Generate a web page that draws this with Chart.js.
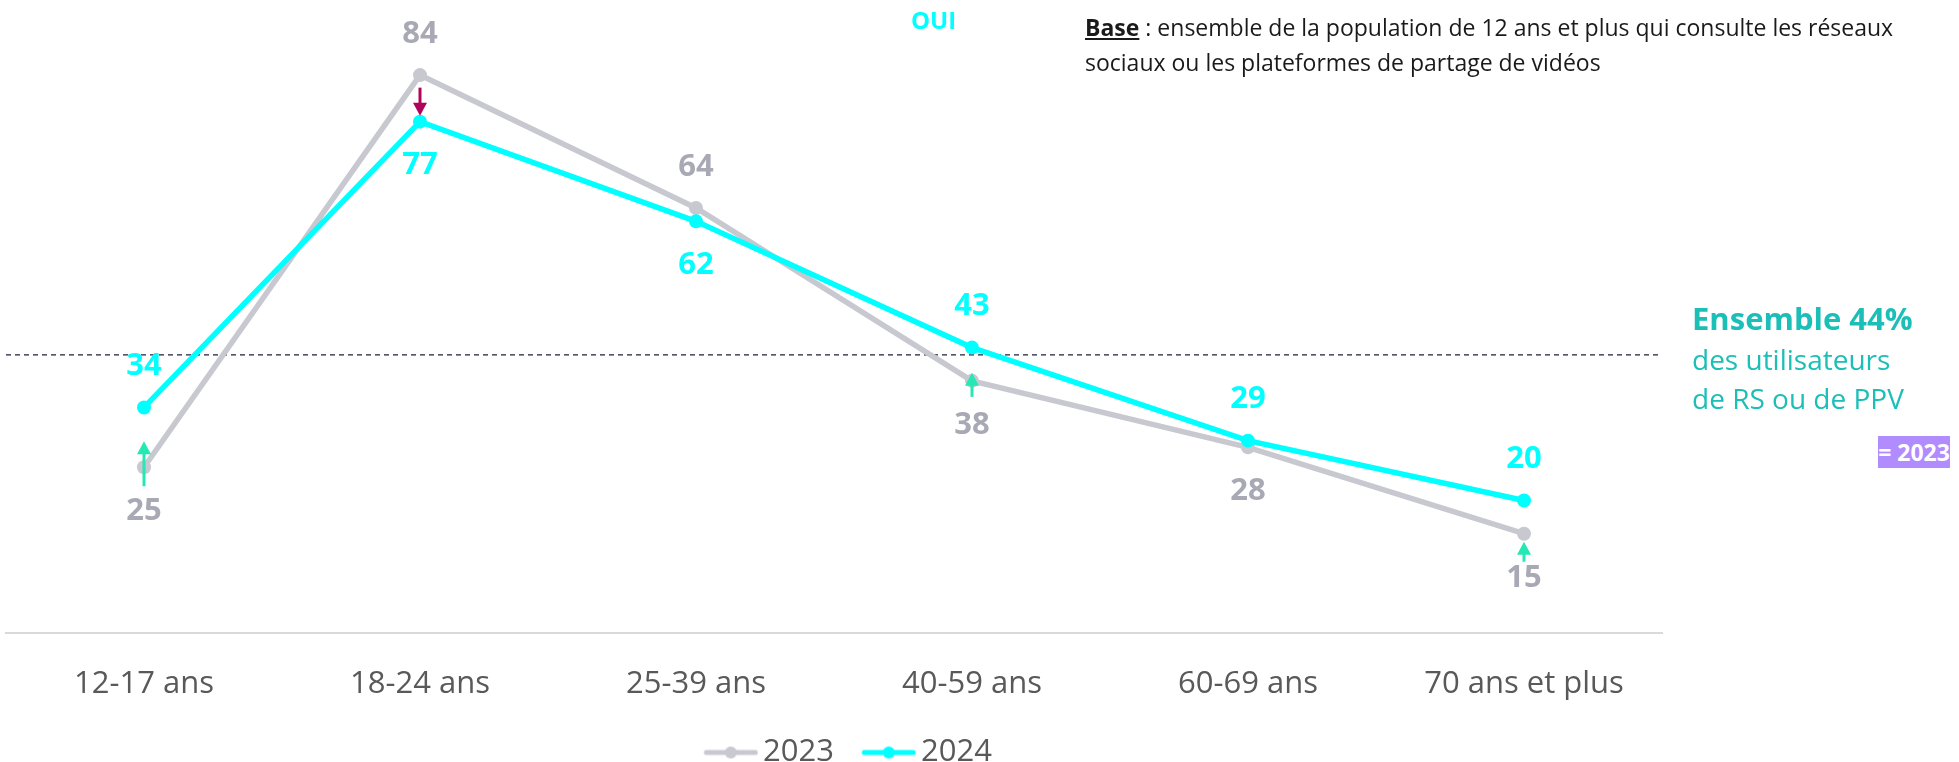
<!DOCTYPE html>
<html lang="fr">
<head>
<meta charset="utf-8">
<title>Réseaux sociaux par âge</title>
<script src="https://cdn.jsdelivr.net/npm/chart.js@4.4.1/dist/chart.umd.min.js"></script>
<style>
    html, body { margin: 0; padding: 0; background: #fff; overflow: hidden; }
    #wrap { position: relative; width: 1959px; height: 762px; }
    #chart { position: absolute; left: 0; top: 0; }
    .note { position: absolute; font-family: "Open Sans", sans-serif; white-space: nowrap; }
    #oui { left: 911px; top: 8px; font-size: 24px; line-height: 24px; font-weight: bold; color: #00FFFF; }
    #base { left: 1085px; top: 10px; font-size: 23px; line-height: 35px; color: #1a1a1a; }
    #base b { text-decoration: underline; }
    .ens { left: 1692px; color: #1BBFB7; line-height: 40px; }
    #ens1 { top: 298px; font-size: 31px; font-weight: bold; }
    #ens2 { top: 339px; font-size: 28px; }
    #ens3 { top: 378px; font-size: 28px; }
    #badge { left: 1878px; top: 436px; width: 72px; height: 32px; line-height: 32px; text-align: center;
             background: #B18CFF; color: #fff; font-size: 23px; font-weight: bold; }
</style>
</head>
<body>
<div id="wrap">
    <canvas id="chart" width="1959" height="762"></canvas>
    <div class="note" id="oui">OUI</div>
    <div class="note" id="base"><b>Base</b> : ensemble de la population de 12 ans et plus qui consulte les réseaux<br>sociaux ou les plateformes de partage de vidéos</div>
    <div class="note ens" id="ens1">Ensemble 44%</div>
    <div class="note ens" id="ens2">des utilisateurs</div>
    <div class="note ens" id="ens3">de RS ou de PPV</div>
    <div class="note" id="badge">= 2023</div>
</div>
<script>
(function() {
    "use strict";

    // data
    var categories = ['12-17 ans', '18-24 ans', '25-39 ans', '40-59 ans', '60-69 ans', '70 ans et plus'];
    var seriesNames = ['2023', '2024'];
    var values2023 = [25, 84, 64, 38, 28, 15];
    var values2024 = [34, 77, 62, 43, 29, 20];
    var ensembleLine = 41.9;   // where the dashed "ensemble" line sits on the y scale
    var evolution = ['up', 'down', null, 'up', null, 'up'];

    // label placement (kept apart from the values)
    var side2023 = ['below', 'above', 'above', 'below', 'below', 'below'];
    var side2024 = ['above', 'below', 'below', 'above', 'above', 'above'];
    var arrowSpan = [[-26, 19], [-6, -34], null, [-8, 16], null, [8, 28]]; // [tip, tail] from the point

    var GREY = '#C8C8D0', GREY_TXT = '#A9A9B5', CYAN = '#00FFFF';
    var UP = '#25E8B5', DOWN = '#B0045C';

    Chart.defaults.font.family = '"Open Sans", sans-serif';

    // legend swatch: line + dot, drawn in the right part of a wider transparent image
    function legendMarker(color) {
        var c = document.createElement('canvas');
        c.width = 93;
        c.height = 14;
        var g = c.getContext('2d');
        g.strokeStyle = color;
        g.lineWidth = 5;
        g.lineCap = 'round';
        g.beginPath();
        g.moveTo(41, 7);
        g.lineTo(90, 7);
        g.stroke();
        g.fillStyle = color;
        g.beginPath();
        g.arc(65.5, 7, 6, 0, Math.PI * 2);
        g.fill();
        return c;
    }
    var markers = [legendMarker(GREY), legendMarker(CYAN)];

    function drawArrow(ctx, x, yTip, yTail, color) {
        var dir = yTip < yTail ? -1 : 1;
        var head = 13;
        ctx.save();
        ctx.strokeStyle = color;
        ctx.fillStyle = color;
        ctx.lineWidth = 3;
        ctx.beginPath();
        ctx.moveTo(x, yTail);
        ctx.lineTo(x, yTip - dir * head * 0.7);
        ctx.stroke();
        ctx.beginPath();
        ctx.moveTo(x, yTip);
        ctx.lineTo(x - 7, yTip - dir * head);
        ctx.lineTo(x + 7, yTip - dir * head);
        ctx.closePath();
        ctx.fill();
        ctx.restore();
    }

    var annotations = {
        id: 'annotations',
        beforeDatasetsDraw: function(chart) {
            var ctx = chart.ctx, area = chart.chartArea;
            var y = chart.scales.y.getPixelForValue(ensembleLine);
            ctx.save();
            ctx.strokeStyle = '#1F1F3F';
            ctx.lineWidth = 1.3;
            ctx.setLineDash([5, 4]);
            ctx.beginPath();
            ctx.moveTo(area.left, y);
            ctx.lineTo(area.right, y);
            ctx.stroke();
            ctx.restore();
        },
        afterDatasetsDraw: function(chart) {
            var ctx = chart.ctx;
            var sides = [side2023, side2024];
            var colors = [GREY_TXT, CYAN];

            for (var i = 0; i < evolution.length; ++i) {
                if (!evolution[i]) {
                    continue;
                }
                var ref = chart.getDatasetMeta(evolution[i] === 'up' ? 0 : 1).data[i];
                drawArrow(ctx, ref.x, ref.y + arrowSpan[i][0], ref.y + arrowSpan[i][1],
                    evolution[i] === 'up' ? UP : DOWN);
            }

            ctx.save();
            ctx.font = 'bold 31px "Open Sans", sans-serif';
            ctx.textAlign = 'center';
            ctx.textBaseline = 'middle';
            chart.data.datasets.forEach(function(ds, d) {
                var meta = chart.getDatasetMeta(d);
                ctx.fillStyle = colors[d];
                meta.data.forEach(function(pt, j) {
                    var dy = sides[d][j] === 'above' ? -41 : 44;
                    ctx.fillText(String(ds.data[j]), pt.x, pt.y + dy);
                });
            });
            ctx.restore();
        }
    };

    new Chart(document.getElementById('chart'), {
        type: 'line',
        data: {
            labels: categories,
            datasets: [{
                label: seriesNames[0],
                data: values2023,
                borderColor: GREY,
                backgroundColor: GREY,
                borderWidth: 5.5,
                pointRadius: 7,
                pointBorderWidth: 0,
                order: 1
            }, {
                label: seriesNames[1],
                data: values2024,
                borderColor: CYAN,
                backgroundColor: CYAN,
                borderWidth: 5.5,
                pointRadius: 7,
                pointBorderWidth: 0,
                order: 0
            }]
        },
        options: {
            responsive: false,
            animation: false,
            layout: {
                autoPadding: false,
                padding: { left: 6, right: 297, top: 2, bottom: -16 }
            },
            scales: {
                x: {
                    offset: true,
                    grid: { display: false, drawTicks: false },
                    border: { display: true, color: '#D9D9D9', width: 2 },
                    ticks: {
                        color: '#595959',
                        font: { size: 31 },
                        padding: 32,
                        maxRotation: 0,
                        autoSkip: false
                    }
                },
                y: {
                    display: false,
                    min: 0,
                    max: 95
                }
            },
            plugins: {
                tooltip: { enabled: false },
                legend: {
                    position: 'bottom',
                    title: {
                        display: true,
                        text: '',
                        font: { size: 2 },
                        padding: 0
                    },
                    labels: {
                        usePointStyle: true,
                        pointStyleWidth: 71.5,
                        padding: 0,
                        color: '#595959',
                        font: { size: 31 },
                        generateLabels: function(chart) {
                            return chart.data.datasets.map(function(ds, i) {
                                return {
                                    text: ds.label,
                                    pointStyle: markers[i],
                                    fontColor: '#595959',
                                    fillStyle: 'transparent',
                                    strokeStyle: 'transparent',
                                    lineWidth: 0,
                                    hidden: false,
                                    datasetIndex: i
                                };
                            });
                        }
                    }
                }
            }
        },
        plugins: [annotations]
    });
}());
</script>
</body>
</html>
